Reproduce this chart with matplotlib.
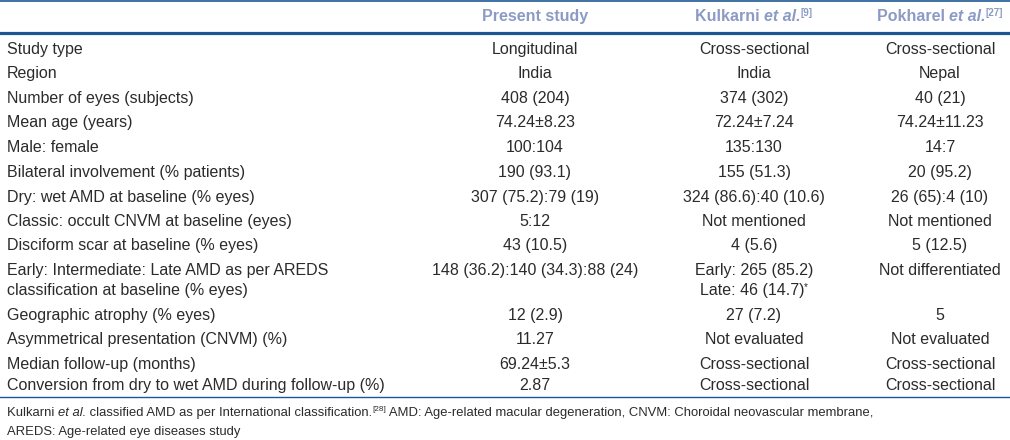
import matplotlib.pyplot as plt

plt.rcParams['font.family'] = ['Liberation Sans', 'DejaVu Sans']

# Table content
headers = [
    [("Present study", "b")],
    [("Kulkarni ", "b"), ("et al.", "bi"), ("[9]", "sup")],
    [("Pokharel ", "b"), ("et al.", "bi"), ("[27]", "sup")],
]
row_labels = [
    ["Study type"],
    ["Region"],
    ["Number of eyes (subjects)"],
    ["Mean age (years)"],
    ["Male: female"],
    ["Bilateral involvement (% patients)"],
    ["Dry: wet AMD at baseline (% eyes)"],
    ["Classic: occult CNVM at baseline (eyes)"],
    ["Disciform scar at baseline (% eyes)"],
    ["Early: Intermediate: Late AMD as per AREDS", "classification at baseline (% eyes)"],
    ["Geographic atrophy (% eyes)"],
    ["Asymmetrical presentation (CNVM) (%)"],
    ["Median follow-up (months)"],
    ["Conversion from dry to wet AMD during follow-up (%)"],
]
present = [
    ["Longitudinal"], ["India"], ["408 (204)"], ["74.24\u00b18.23"], ["100:104"],
    ["190 (93.1)"], ["307 (75.2):79 (19)"], ["5:12"], ["43 (10.5)"],
    ["148 (36.2):140 (34.3):88 (24)"], ["12 (2.9)"], ["11.27"],
    ["69.24\u00b15.3"], ["2.87"],
]
kulkarni = [
    ["Cross-sectional"], ["India"], ["374 (302)"], ["72.24\u00b17.24"], ["135:130"],
    ["155 (51.3)"], ["324 (86.6):40 (10.6)"], ["Not mentioned"], ["4 (5.6)"],
    ["Early: 265 (85.2)", "Late: 46 (14.7)*"], ["27 (7.2)"], ["Not evaluated"],
    ["Cross-sectional"], ["Cross-sectional"],
]
pokharel = [
    ["Cross-sectional"], ["Nepal"], ["40 (21)"], ["74.24\u00b111.23"], ["14:7"],
    ["20 (95.2)"], ["26 (65):4 (10)"], ["Not mentioned"], ["5 (12.5)"],
    ["Not differentiated"], ["5"], ["Not evaluated"],
    ["Cross-sectional"], ["Cross-sectional"],
]
footnote = [
    [("Kulkarni ", "n"), ("et al.", "i"), (" classified AMD as per International classification.", "n"),
     ("[28]", "sup"),
     (" AMD: Age-related macular degeneration, CNVM: Choroidal neovascular membrane,", "n")],
    [("AREDS: Age-related eye diseases study", "n")],
]

# layout
row_y = [49, 73, 98, 122, 147, 172, 197, 221, 245, 270, 315, 339, 364, 385]
line_gap = 20
col_x = [535, 754, 940]
label_x = 7
fs = 11.5
text_color = '#2b2b2b'
head_color = '#8b9bc6'
rule_color = '#1d5792'

fig = plt.figure(figsize=(10.1, 4.4), dpi=100)
ax = fig.add_axes([0, 0, 1, 1])
ax.set_xlim(0, 1010)
ax.set_ylim(440, 0)
ax.axis('off')
renderer = fig.canvas.get_renderer()


def draw_runs(x, yc, parts, ha='left', color=text_color, size=fs):
    base = yc + 5
    items = []
    for s, kind in parts:
        weight = 'bold' if 'b' in kind else 'normal'
        style = 'italic' if 'i' in kind else 'normal'
        if kind == 'sup':
            t = ax.text(0, base - 5, s, fontsize=size * 0.62, color=color,
                        va='baseline', ha='left',
                        fontweight='bold' if color == head_color else 'normal')
        else:
            t = ax.text(0, base, s, fontsize=size, color=color, va='baseline',
                        ha='left', fontweight=weight, fontstyle=style)
        items.append(t)
    widths = [t.get_window_extent(renderer).width for t in items]
    total = sum(widths)
    start = x - total / 2 if ha == 'center' else x
    for t, w in zip(items, widths):
        t.set_x(start)
        start += w


def draw_cell(x, yc, lines, ha):
    for k, s in enumerate(lines):
        if s.endswith('*'):
            draw_runs(x, yc + k * line_gap, [(s[:-1], 'n'), ('*', 'sup')], ha=ha)
        else:
            draw_runs(x, yc + k * line_gap, [(s, 'n')], ha=ha)


# rules
ax.plot([0, 1010], [0.6, 0.6], color=rule_color, lw=1.2)
ax.plot([0, 1010], [33, 33], color=rule_color, lw=2.3)
ax.plot([0, 1010], [397, 397], color=rule_color, lw=1.0)

for cx, h in zip(col_x, headers):
    draw_runs(cx, 16, h, ha='center', color=head_color)

for i, y in enumerate(row_y):
    draw_cell(label_x, y, row_labels[i], 'left')
    draw_cell(col_x[0], y, present[i], 'center')
    draw_cell(col_x[1], y, kulkarni[i], 'center')
    draw_cell(col_x[2], y, pokharel[i], 'center')

draw_runs(label_x, 411, footnote[0], size=9.4)
draw_runs(label_x, 430, footnote[1], size=9.4)

fig.savefig('out.png', dpi=100)
